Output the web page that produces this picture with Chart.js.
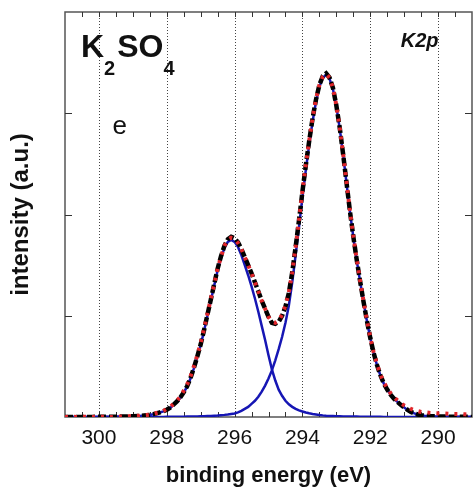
<!DOCTYPE html>
<html><head><meta charset="utf-8">
<script src="https://cdn.jsdelivr.net/npm/chart.js@4/dist/chart.umd.min.js"></script>
<style>html,body{margin:0;padding:0;background:#fff;}#wrap{width:473px;height:495px;}</style>
</head><body><div id="wrap"><canvas id="c" width="473" height="495"></canvas></div>
<script>
// binding energy (eV)
const energies = [
 301.0,300.8,300.6,300.4,300.2,300.0,299.8,299.6,299.4,299.2,299.0,298.8,
 298.6,298.5,298.4,298.3,298.2,298.1,298.0,297.9,297.8,297.7,
 297.6,297.5,297.4,297.3,297.2,297.1,297.0,296.9,296.8,296.7,
 296.6,296.5,296.4,296.3,296.2,296.1,296.0,295.9,295.8,295.7,
 295.6,295.5,295.4,295.3,295.2,295.1,295.0,294.9,294.8,294.7,
 294.6,294.5,294.4,294.3,294.2,294.1,294.0,293.9,293.8,293.7,
 293.6,293.5,293.4,293.3,293.2,293.1,293.0,292.9,292.8,292.7,
 292.6,292.5,292.4,292.3,292.2,292.1,292.0,291.9,291.8,291.7,
 291.6,291.5,291.4,291.3,291.2,291.1,291.0,290.9,290.8,290.7,
 290.6,290.5,290.4,290.2,290.0,289.8,289.6,289.4,289.2,289.0
];
// measured spectrum (red)
const measured = [
 0.000,0.004,0.000,0.003,0.000,0.004,0.003,0.000,0.005,0.008,0.010,0.012,
 0.020,0.024,0.030,0.040,0.048,0.060,0.080,0.100,0.130,0.160,
 0.200,0.260,0.320,0.400,0.500,0.610,0.730,0.870,1.020,1.170,
 1.310,1.470,1.580,1.690,1.750,1.770,1.760,1.720,1.660,1.580,
 1.500,1.420,1.330,1.240,1.150,1.070,0.990,0.940,0.930,0.950,
 1.010,1.100,1.230,1.430,1.680,1.950,2.230,2.490,2.730,2.950,
 3.140,3.280,3.360,3.390,3.350,3.250,3.080,2.860,2.600,2.320,
 2.040,1.790,1.560,1.350,1.150,0.960,0.790,0.640,0.520,0.420,
 0.340,0.285,0.235,0.195,0.165,0.135,0.115,0.095,0.080,0.068,
 0.058,0.050,0.046,0.040,0.036,0.034,0.030,0.030,0.026,0.022
];
// fit envelope (black dashed)
const envelope = [
 0.000,0.000,0.000,0.001,0.001,0.002,0.002,0.003,0.004,0.005,0.007,0.011,
 0.018,0.021,0.028,0.036,0.046,0.056,0.072,0.092,0.122,0.153,
 0.193,0.243,0.304,0.384,0.485,0.596,0.717,0.858,1.010,1.161,
 1.313,1.465,1.588,1.691,1.755,1.780,1.765,1.725,1.660,1.580,
 1.500,1.420,1.330,1.240,1.150,1.070,0.990,0.930,0.920,0.940,
 1.000,1.090,1.225,1.430,1.680,1.945,2.225,2.485,2.727,2.950,
 3.135,3.280,3.366,3.393,3.351,3.250,3.078,2.857,2.596,2.315,
 2.035,1.784,1.554,1.343,1.143,0.953,0.782,0.632,0.512,0.412,
 0.331,0.271,0.221,0.181,0.150,0.120,0.095,0.070,0.050,0.036,
 0.025,0.018,0.013,0.008,0.005,0.004,0.003,0.002,0.002,0.001
];
// component at ~293.3 eV (blue)
const peakMain = [
 0,0,0,0,0,0,0,0,0,0,0,0,
 0.001,0.001,0.001,0.001,0.001,0.001,0.002,0.002,0.002,0.003,
 0.003,0.003,0.004,0.004,0.005,0.006,0.007,0.008,0.010,0.011,
 0.013,0.015,0.018,0.021,0.025,0.030,0.035,0.045,0.060,0.080,
 0.100,0.130,0.160,0.200,0.250,0.310,0.380,0.460,0.560,0.670,
 0.790,0.930,1.100,1.330,1.600,1.880,2.170,2.440,2.690,2.920,
 3.110,3.260,3.350,3.380,3.340,3.240,3.070,2.850,2.590,2.310,
 2.030,1.780,1.550,1.340,1.140,0.950,0.780,0.630,0.510,0.410,
 0.330,0.270,0.220,0.180,0.150,0.120,0.095,0.070,0.050,0.036,
 0.025,0.018,0.013,0.008,0.005,0.004,0.003,0.002,0.002,0.001
];
// component at ~296.1 eV (blue)
const peakSecond = [
 0,0,0,0.001,0.001,0.002,0.002,0.003,0.004,0.005,0.007,0.011,
 0.017,0.020,0.027,0.035,0.045,0.055,0.070,0.090,0.120,0.150,
 0.190,0.240,0.300,0.380,0.480,0.590,0.710,0.850,1.000,1.150,
 1.300,1.450,1.570,1.670,1.730,1.750,1.730,1.680,1.600,1.500,
 1.400,1.290,1.170,1.040,0.900,0.760,0.610,0.470,0.360,0.270,
 0.210,0.160,0.125,0.100,0.080,0.065,0.055,0.045,0.037,0.030,
 0.025,0.020,0.016,0.013,0.011,0.010,0.008,0.007,0.006,0.005,
 0.005,0.004,0.004,0.003,0.003,0.003,0.002,0.002,0.002,0.002,
 0.001,0.001,0.001,0.001,0,0,0,0,0,0,
 0,0,0,0,0,0,0,0,0,0
];
const xTickLabels = [300, 298, 296, 294, 292, 290];
const yTickValues = [1, 2, 3];
const xMinorTicks = [300.5,300,299.5,299,298.5,298,297.5,297,296.5,296,295.5,295,294.5,294,293.5,293,292.5,292,291.5,291,290.5,290,289.5];

const FONT = "'Liberation Sans', Arial, Helvetica, sans-serif";
const toPts = arr => arr.map((v, i) => ({x: energies[i], y: v}));

const annotations = [
  {x: 300.53, y: 3.556, parts: [
    {t: 'K', size: 32, dy: 0}, {t: '2', size: 20, dy: 18, gapAfter: 2},
    {t: 'SO', size: 32, dy: 0}, {t: '4', size: 20, dy: 18}
  ], weight: 'bold', style: 'normal'},
  {x: 299.60, y: 2.795, parts: [{t: 'e', size: 26, dy: 0}], weight: 'normal', style: 'normal'},
  {x: 291.10, y: 3.654, parts: [{t: 'K2p', size: 20, dy: 0}], weight: 'bold', style: 'italic'}
];

const framePlugin = {
  id: 'frame',
  beforeDatasetsDraw(chart) {
    const {ctx, chartArea: a, scales: {x, y}} = chart;
    ctx.save();
    ctx.strokeStyle = '#444';
    ctx.lineWidth = 1;
    ctx.setLineDash([1, 2]);
    xTickLabels.forEach(v => {
      const px = Math.round(x.getPixelForValue(v)) + 0.5;
      ctx.beginPath(); ctx.moveTo(px, a.top); ctx.lineTo(px, a.bottom); ctx.stroke();
    });
    ctx.setLineDash([]);
    ctx.strokeStyle = '#555';
    ctx.lineWidth = 1.5;
    ctx.strokeRect(a.left, a.top, a.right - a.left, a.bottom - a.top);
    ctx.strokeStyle = '#333';
    ctx.lineWidth = 1;
    xMinorTicks.forEach(v => {
      const px = Math.round(x.getPixelForValue(v)) + 0.5;
      ctx.beginPath(); ctx.moveTo(px, a.top); ctx.lineTo(px, a.top + 5); ctx.stroke();
      ctx.beginPath(); ctx.moveTo(px, a.bottom); ctx.lineTo(px, a.bottom - 5); ctx.stroke();
    });
    yTickValues.forEach(v => {
      const py = Math.round(y.getPixelForValue(v)) + 0.5;
      ctx.beginPath(); ctx.moveTo(a.left, py); ctx.lineTo(a.left + 7, py); ctx.stroke();
      ctx.beginPath(); ctx.moveTo(a.right, py); ctx.lineTo(a.right - 7, py); ctx.stroke();
    });
    ctx.restore();
  },
  afterDatasetsDraw(chart) {
    const {ctx, scales: {x, y}} = chart;
    ctx.save();
    ctx.fillStyle = '#111';
    ctx.textBaseline = 'alphabetic';
    ctx.textAlign = 'left';
    annotations.forEach(an => {
      let px = x.getPixelForValue(an.x);
      const py = y.getPixelForValue(an.y);
      an.parts.forEach(p => {
        ctx.font = `${an.style} ${an.weight} ${p.size}px ${FONT}`;
        ctx.fillText(p.t, px, py + p.dy);
        px += ctx.measureText(p.t).width + (p.gapAfter || 0);
      });
    });
    ctx.restore();
  }
};

new Chart(document.getElementById('c'), {
  type: 'line',
  data: {
    datasets: [
      {label: 'measured', data: toPts(measured), borderColor: '#e0252a', borderWidth: 4,
       borderDash: [3, 6], pointRadius: 0, tension: 0, order: 0},
      {label: 'envelope', data: toPts(envelope), borderColor: '#000', borderWidth: 4.5,
       borderDash: [8, 3], pointRadius: 0, tension: 0, order: 1},
      {label: 'peak 1', data: toPts(peakMain), borderColor: '#1616b4', borderWidth: 2.5,
       pointRadius: 0, tension: 0, order: 2},
      {label: 'peak 2', data: toPts(peakSecond), borderColor: '#1616b4', borderWidth: 2.5,
       pointRadius: 0, tension: 0, order: 3}
    ]
  },
  options: {
    responsive: false,
    devicePixelRatio: 1,
    animation: false,
    layout: {padding: {top: 12, right: 1, left: 0, bottom: 0}},
    plugins: {legend: {display: false}, tooltip: {enabled: false}},
    scales: {
      x: {
        type: 'linear', reverse: true, min: 289, max: 301,
        afterFit: s => { s.height = 78; },
        afterBuildTicks: s => { s.ticks = xTickLabels.map(v => ({value: v})); },
        grid: {display: false, drawTicks: false},
        border: {display: false},
        ticks: {padding: 9, color: '#111', font: {family: FONT, size: 21}, maxRotation: 0,
                callback: v => String(v)},
        title: {display: true, text: 'binding energy (eV)', color: '#111',
                font: {family: FONT, size: 22, weight: 'bold'}, padding: {top: 0, bottom: 6}}
      },
      y: {
        type: 'linear', min: 0, max: 4,
        afterFit: s => { s.width = 65; },
        grid: {display: false, drawTicks: false},
        border: {display: false},
        ticks: {display: false},
        title: {display: true, text: 'intensity (a.u.)', color: '#111',
                font: {family: FONT, size: 24, weight: 'bold'}, padding: {top: 7, bottom: 0}}
      }
    }
  },
  plugins: [framePlugin]
});
</script></body></html>
